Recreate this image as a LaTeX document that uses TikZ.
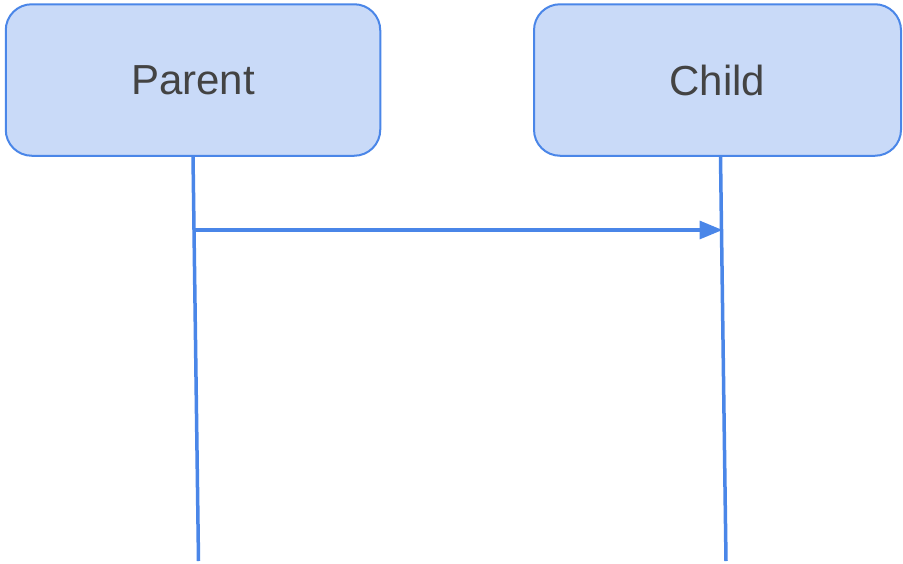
\documentclass[tikz,border=0pt]{standalone}
\usepackage{fontspec}
\setmainfont{Liberation Sans}
\usetikzlibrary{arrows.meta,calc}
\definecolor{boxfill}{HTML}{C9DAF8}
\definecolor{boxline}{HTML}{4A86E8}
\definecolor{txt}{HTML}{434343}
\tikzset{
  actor/.style={draw=boxline, fill=boxfill, line width=2pt, rounded corners=26pt,
    minimum height=151.5pt, inner sep=0pt, text=txt,
    font=\fontsize{42}{48}\selectfont},
  lifeline/.style={draw=boxline, line width=3.5pt},
  msg/.style={draw=boxline, line width=3.3pt, -{Triangle[length=23pt,width=18pt]}, shorten >=-1pt}
}
\begin{document}
\begin{tikzpicture}[x=1pt,y=-1pt]
\useasboundingbox (0,0) rectangle (903,563);
\node[actor, minimum width=374.5pt] (P) at (193,80) {Parent};
\node[actor, minimum width=367pt] (C) at (717.5,80) {Child};
\coordinate (pt) at (193,156);
\coordinate (pb) at (198.5,561);
\coordinate (ct) at (720.5,156);
\coordinate (cb) at (726,561);
\draw[lifeline] (pt) -- (pb);
\draw[lifeline] (ct) -- (cb);
\coordinate (ms) at ($(pt)!0.1827!(pb)$);
\coordinate (me) at ($(ct)!0.1827!(cb)$);
\draw[msg] (ms) -- (me);
\end{tikzpicture}
\end{document}
